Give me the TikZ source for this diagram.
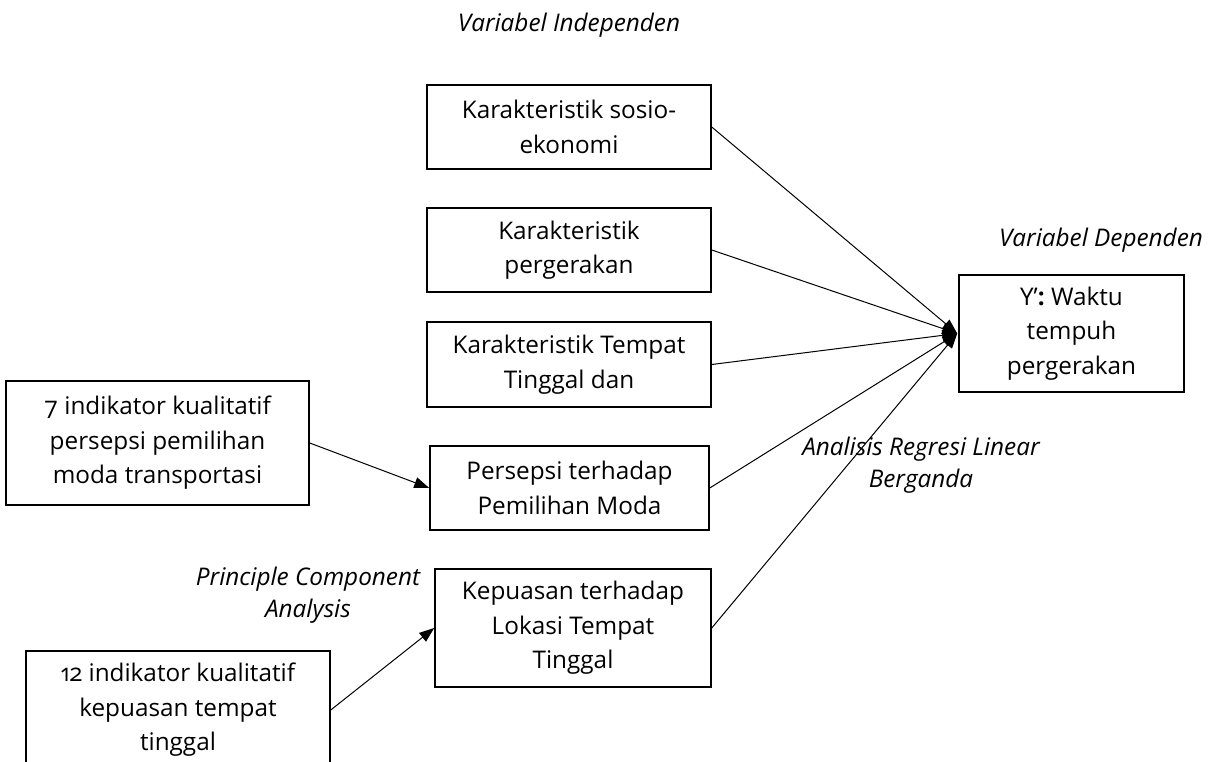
\documentclass[tikz,border=0pt]{standalone}
\usepackage{fontspec}
\setmainfont{Open Sans}[Numbers=OldStyle]
\usetikzlibrary{arrows.meta}
\begin{document}
\begin{tikzpicture}[x=1bp,y=-1bp,
  every node/.style={font=\fontsize{24.3bp}{34.5bp}\selectfont, align=center, inner sep=0pt},
  box/.style={draw, line width=1.5bp, minimum width=#1},
  lab/.style={font=\fontsize{24.3bp}{32bp}\selectfont\itshape},
  arr/.style={line width=1bp, -{Triangle[length=15bp,width=11bp]}}]
\clip (0,0) rectangle (1209,762);
\node[box=284bp, minimum height=84bp] (socio) at (569,127) {Karakteristik sosio-\\ekonomi};
\node[box=284bp, minimum height=84bp] (perg) at (569,250) {Karakteristik\\pergerakan};
\node[box=284bp, minimum height=85bp] (tempat) at (569,364.5) {Karakteristik Tempat\\Tinggal dan};
\node[box=279bp, minimum height=84bp] (persepsi) at (569.5,488) {Persepsi terhadap\\Pemilihan Moda};
\node[box=276bp, minimum height=118bp] (kepuasan) at (573,628) {Kepuasan terhadap\\Lokasi Tempat\\Tinggal};
\node[box=303bp, minimum height=124bp] (ind7) at (157.5,443) {7 indikator kualitatif\\persepsi pemilihan\\moda transportasi};
\node[box=304bp, minimum height=118bp] (ind12) at (178,710) {12 indikator kualitatif\\kepuasan tempat\\tinggal};
\node[box=225bp, minimum height=117bp] (Y) at (1071.5,333.5) {Y’\textbf{:} Waktu\\tempuh\\pergerakan};
\node[lab] (indep) at (569,25) {Variabel Independen};
\node[lab] (dep) at (1101,240) {Variabel Dependen};
\node[lab] (reg) at (921,465) {Analisis Regresi Linear\\Berganda};
\node[lab] (pca) at (308,595) {Principle Component\\Analysis};
\foreach \n in {socio,perg,tempat,persepsi,kepuasan}
  \draw[arr] (\n.east) -- ([xshift=-1bp]Y.west);
\draw[arr] (ind7.east) -- (persepsi.west);
\draw[arr] (ind12.east) -- (kepuasan.west);
\end{tikzpicture}
\end{document}
